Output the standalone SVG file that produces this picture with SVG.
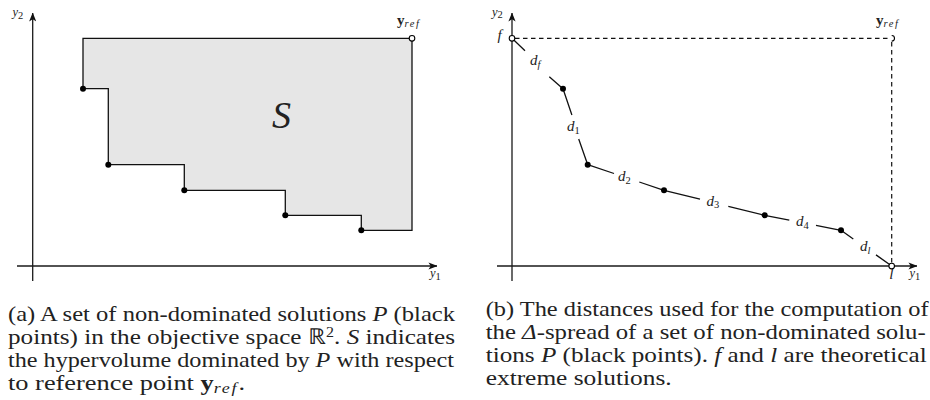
<svg xmlns="http://www.w3.org/2000/svg" width="930" height="400" viewBox="0 0 930 400">
<style>
.ax{stroke:#1a1a1a;stroke-width:1.3;fill:none}
.ln{stroke:#111;stroke-width:1.3;fill:none}
.dash{stroke:#111;stroke-width:1.2;fill:none;stroke-dasharray:4.5 3.5}
.dot{fill:#000}
.open{fill:#fff;stroke:#000;stroke-width:1.1}
.t{font-family:'Liberation Serif',serif;fill:#222}
.m{font-family:'Liberation Serif',serif;font-style:italic;fill:#222}
.lbl{font-size:15px}
.ax-l{font-size:12.5px}
.sub{font-size:10.5px}
.cap{font-size:22px}
</style>
<defs>
<marker id="arr" viewBox="0 0 10 8" refX="9.5" refY="4" markerWidth="9" markerHeight="7.2" markerUnits="userSpaceOnUse" orient="auto">
<path d="M0,0 L10,4 L0,8 L2.5,4 z" fill="#111"/>
</marker>
</defs>

<!-- Panel (a) -->
<g id="region-S">
<path d="M83,38.3 V88.7 H108.3 V164.7 H184.3 V190.3 H285.3 V215.3 H361.3 V230.3 H412 V38.3 Z" fill="#e6e6e6" stroke="#111" stroke-width="1.3"/>
<text class="m" x="272" y="128" font-size="38">S</text>
</g>
<g id="axes-a">
<line class="ax" x1="32.7" y1="281" x2="32.7" y2="13" marker-end="url(#arr)"/>
<line class="ax" x1="17" y1="266" x2="437" y2="266" marker-end="url(#arr)"/>
<text class="m ax-l" x="12.5" y="16">y<tspan class="t sub" font-style="normal" dy="2.5">2</tspan></text>
<text class="m ax-l" x="430" y="277">y<tspan class="t sub" font-style="normal" dy="2.5">1</tspan></text>
</g>
<g id="a-p1"><circle class="dot" cx="83" cy="88.7" r="3"/></g>
<g id="a-p2"><circle class="dot" cx="108.3" cy="164.7" r="3"/></g>
<g id="a-p3"><circle class="dot" cx="184.3" cy="190.3" r="3"/></g>
<g id="a-p4"><circle class="dot" cx="285.3" cy="215.3" r="3"/></g>
<g id="a-p5"><circle class="dot" cx="361.3" cy="230.3" r="3"/></g>
<g id="a-yref">
<circle class="open" cx="412" cy="38.3" r="2.8"/>
<text class="t lbl" x="397" y="25" font-weight="bold">y<tspan class="m sub" font-weight="normal" dy="2" letter-spacing="1.6">ref</tspan></text>
</g>

<!-- Panel (b) -->
<g id="axes-b">
<line class="ax" x1="512" y1="281" x2="512" y2="13" marker-end="url(#arr)"/>
<line class="ax" x1="497" y1="266" x2="917" y2="266" marker-end="url(#arr)"/>
<text class="m ax-l" x="492" y="15.5">y<tspan class="t sub" font-style="normal" dy="2.5">2</tspan></text>
<text class="m ax-l" x="909.5" y="277">y<tspan class="t sub" font-style="normal" dy="2.5">1</tspan></text>
</g>
<g id="connectors">
<path class="dash" d="M515,38.3 H889"/>
<path class="dash" d="M891.7,42 V263"/>
<path class="ln" d="M512,38.3 L525,50.7 M549.3,76.7 L563,88.7"/>
<path class="ln" d="M563,88.7 L571.9,115 M578.7,139 L587.7,164.7"/>
<path class="ln" d="M587.7,164.7 L614,173.5 M639.3,182 L664,190.3"/>
<path class="ln" d="M664,190.3 L700,199.2 M728.3,206.3 L764.7,215.3"/>
<path class="ln" d="M764.7,215.3 L789.3,220.1 M816,225.4 L841,230.3"/>
<path class="ln" d="M841,230.3 L853.3,239 M876,254.9 L891.7,266"/>
<text class="m lbl" x="530" y="65">d<tspan class="sub" dy="3">f</tspan></text>
<text class="m lbl" x="567" y="131">d<tspan class="t sub" font-style="normal" dy="2.5">1</tspan></text>
<text class="m lbl" x="618" y="181">d<tspan class="t sub" font-style="normal" dy="2.5">2</tspan></text>
<text class="m lbl" x="706.5" y="205.7">d<tspan class="t sub" font-style="normal" dy="2.5">3</tspan></text>
<text class="m lbl" x="796" y="226">d<tspan class="t sub" font-style="normal" dy="2.5">4</tspan></text>
<text class="m lbl" x="860" y="251">d<tspan class="sub" dy="2.5">l</tspan></text>
</g>
<g id="b-f">
<circle class="open" cx="512" cy="38.3" r="2.8"/>
<text class="m lbl" x="497.5" y="40">f</text>
</g>
<g id="b-p1"><circle class="dot" cx="563" cy="88.7" r="3"/></g>
<g id="b-p2"><circle class="dot" cx="587.7" cy="164.7" r="3"/></g>
<g id="b-p3"><circle class="dot" cx="664" cy="190.3" r="3"/></g>
<g id="b-p4"><circle class="dot" cx="764.7" cy="215.3" r="3"/></g>
<g id="b-p5"><circle class="dot" cx="841" cy="230.3" r="3"/></g>
<g id="b-l">
<circle class="open" cx="891.7" cy="266" r="2.8"/>
<text class="m lbl" x="889.3" y="279">l</text>
</g>
<g id="b-yref">
<path d="M891.7,35.5 A2.8,2.8 0 0 1 891.7,41.1" fill="none" stroke="#000" stroke-width="1.1"/>
<text class="t lbl" x="876" y="25" font-weight="bold">y<tspan class="m sub" font-weight="normal" dy="2" letter-spacing="1.6">ref</tspan></text>
</g>

<!-- Captions -->
<g id="caption-a" class="t cap">
<text x="8" y="320.5" textLength="447" lengthAdjust="spacingAndGlyphs">(a) A set of non-dominated solutions <tspan class="m">P</tspan> (black</text>
<text x="8" y="343.5" textLength="447" lengthAdjust="spacingAndGlyphs">points) in the objective space ℝ<tspan font-size="14" dy="-6.5">2</tspan><tspan dy="6.5">. </tspan><tspan class="m">S</tspan> indicates</text>
<text x="8" y="366.5" textLength="446" lengthAdjust="spacingAndGlyphs">the hypervolume dominated by <tspan class="m">P</tspan> with respect</text>
<text x="8" y="389.5" textLength="237" lengthAdjust="spacingAndGlyphs">to reference point <tspan font-weight="bold">y</tspan><tspan class="m" font-size="15" dy="3" letter-spacing="1.5">ref</tspan><tspan dy="-3">.</tspan></text>
</g>
<g id="caption-b" class="t cap">
<text x="485.7" y="315.5" textLength="443" lengthAdjust="spacingAndGlyphs">(b) The distances used for the computation of</text>
<text x="485.7" y="338.5" textLength="440" lengthAdjust="spacingAndGlyphs">the <tspan class="m">Δ</tspan>-spread of a set of non-dominated solu-</text>
<text x="485.7" y="361.5" textLength="441" lengthAdjust="spacingAndGlyphs">tions <tspan class="m">P</tspan> (black points). <tspan class="m">f</tspan> and <tspan class="m">l</tspan> are theoretical</text>
<text x="485.7" y="384.5" textLength="186" lengthAdjust="spacingAndGlyphs">extreme solutions.</text>
</g>
</svg>
